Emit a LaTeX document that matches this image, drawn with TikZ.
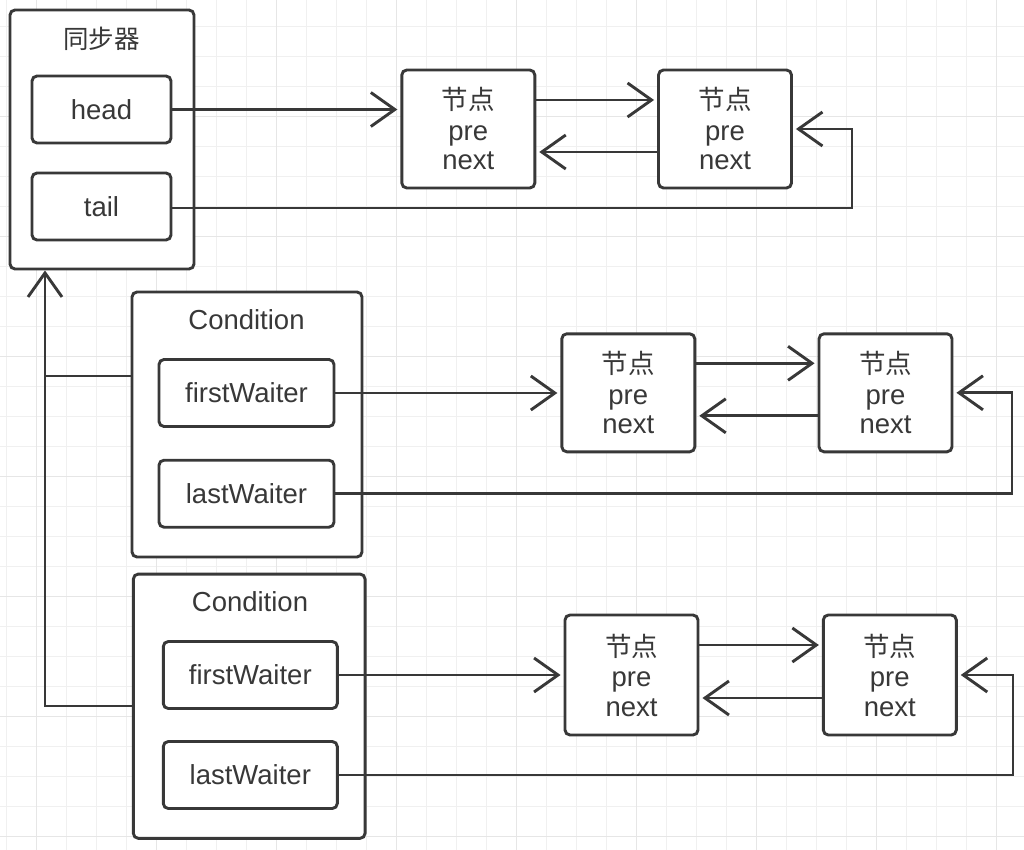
\documentclass[tikz,border=0pt]{standalone}
\usepackage{fontspec}
\setmainfont{Liberation Sans}
\newfontfamily\cjk{Noto Sans CJK SC}
\usetikzlibrary{arrows.meta,calc}
\definecolor{ink}{HTML}{383838}
\definecolor{gridminor}{HTML}{F0F0F0}
\definecolor{gridmajor}{HTML}{E6E6E6}
\tikzset{
  box/.style={draw=ink, line width=2.9pt, rounded corners=5pt, inner sep=0pt, fill=white},
  outerbox/.style={box},
  fieldbox/.style={box, minimum height=67pt, text=ink, font=\fontsize{27.5}{29}\selectfont},
  listnode/.style={box, minimum width=133pt, minimum height=118pt, align=center, text=ink, font=\fontsize{27.5}{29.5}\selectfont},
  titletext/.style={text=ink, inner sep=0pt},
  conn/.style={draw=ink, line width=2.9pt},
  arr/.style={conn, -{Straight Barb[length=24pt,width=34pt,line width=2.9pt]}, shorten >=3pt},
}
\newcommand{\nodetext}{{\cjk\fontsize{26.5}{29}\selectfont 节点}\\[1pt]pre\\next}
\begin{document}
\begin{tikzpicture}[x=1pt,y=-1pt]
\useasboundingbox (0,0) rectangle (1024,850);
\fill[white] (0,0) rectangle (1024,850);
% grid
\foreach \i in {0,...,33} {\draw[gridminor, line width=1.4pt] ({6.7+30*\i},0) -- ({6.7+30*\i},850);}
\foreach \i in {0,...,27} {\draw[gridminor, line width=1.4pt] (0,{26.7+30*\i}) -- (1024,{26.7+30*\i});}
\foreach \i in {0,...,8} {\draw[gridmajor, line width=1.4pt] ({36.7+120*\i},0) -- ({36.7+120*\i},850);}
\foreach \i in {0,...,6} {\draw[gridmajor, line width=1.4pt] (0,{116.7+120*\i}) -- (1024,{116.7+120*\i});}

% synchronizer
\node[outerbox, minimum width=184pt, minimum height=259pt] (sync) at (102,139.5) {};
\node[titletext, font=\cjk\fontsize{25.5}{28}\selectfont] (synct) at (101.5,39) {同步器};
\node[fieldbox, minimum width=139pt] (head) at (101.5,109.5) {head};
\node[fieldbox, minimum width=139pt] (tail) at (101.5,206.5) {tail};

% condition 1
\node[outerbox, minimum width=230pt, minimum height=265pt] (cond1) at (247,424.5) {};
\node[titletext, font=\fontsize{27.5}{29}\selectfont] (cond1t) at (246.5,320) {Condition};
\node[fieldbox, minimum width=175pt] (fw1) at (246.5,393) {firstWaiter};
\node[fieldbox, minimum width=175pt] (lw1) at (246.5,493.7) {lastWaiter};

% condition 2
\node[outerbox, minimum width=231.7pt, minimum height=264.3pt] (cond2) at (249.2,706.2) {};
\node[titletext, font=\fontsize{27.5}{29}\selectfont] (cond2t) at (250,601.7) {Condition};
\node[fieldbox, minimum width=174pt] (fw2) at (250.3,675) {firstWaiter};
\node[fieldbox, minimum width=174pt] (lw2) at (250.3,775) {lastWaiter};

% list nodes
\node[listnode] (n1) at (468.3,129) {\nodetext};
\node[listnode] (n2) at (725,129) {\nodetext};
\node[listnode] (n3) at (628.3,392.8) {\nodetext};
\node[listnode] (n4) at (885.5,392.8) {\nodetext};
\node[listnode, minimum height=120pt] (n5) at (631.5,675) {\nodetext};
\node[listnode, minimum height=120pt] (n6) at (889.8,675) {\nodetext};

% turning coordinates
\coordinate (t1) at (852,0);
\coordinate (t2) at (1012,0);
\coordinate (t3) at (1013,0);
\coordinate (j1) at (45,376);
\coordinate (j2) at (45,706);

% row 1
\draw[arr] (head.east) -- (head.east -| n1.west);
\draw[arr] ([yshift=29pt]n1.east) -- ([yshift=29pt]n2.west);
\draw[arr] ([yshift=-23pt]n2.west) -- ([yshift=-23pt]n1.east);
\draw[arr] ([yshift=-1.5pt]tail.east) -| (t1 |- n2.east) -- (n2.east);

% row 2
\draw[arr] (fw1.east) -- (fw1.east -| n3.west);
\draw[arr] ([yshift=29.5pt]n3.east) -- ([yshift=29.5pt]n4.west);
\draw[arr] ([yshift=-23pt]n4.west) -- ([yshift=-23pt]n3.east);
\draw[arr] (lw1.east) -| (t2 |- n4.east) -- (n4.east);

% row 3
\draw[arr] (fw2.east) -- (fw2.east -| n5.west);
\draw[arr] ([yshift=30pt]n5.east) -- ([yshift=30pt]n6.west);
\draw[arr] ([yshift=-23pt]n6.west) -- ([yshift=-23pt]n5.east);
\draw[arr] (lw2.east) -| (t3 |- n6.east) -- (n6.east);

% back links to synchronizer
\draw[conn] (cond1.west |- j1) -- (j1);
\draw[arr, shorten >=0pt] (cond2.west |- j2) -- (j2) -- (j2 |- sync.south);
\end{tikzpicture}
\end{document}
